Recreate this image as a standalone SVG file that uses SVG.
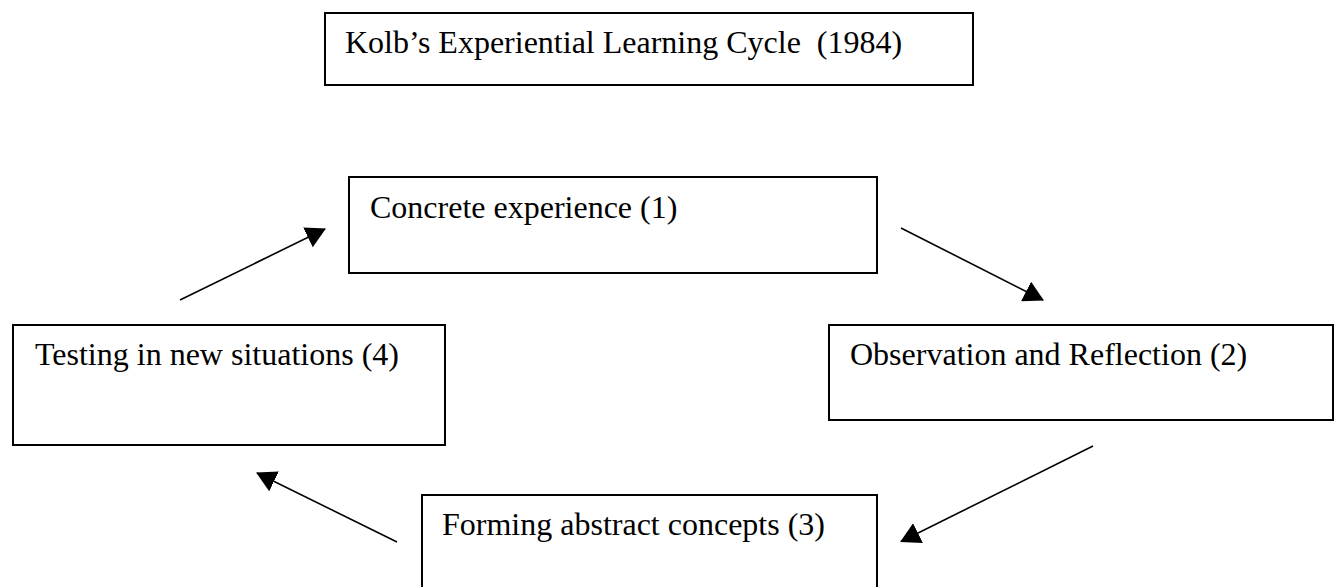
<svg xmlns="http://www.w3.org/2000/svg" width="1340" height="587" viewBox="0 0 1340 587">
<style>
.box{fill:#fff;stroke:#000;stroke-width:2}
.lbl{font-family:"Liberation Serif","Times New Roman",serif;font-size:32px;fill:#000}
.conn{stroke:#000;stroke-width:1.6;fill:none;marker-end:url(#ah)}
</style>
<defs>
<marker id="ah" markerUnits="userSpaceOnUse" markerWidth="20" markerHeight="22" refX="19" refY="11" orient="auto" viewBox="0 0 20 22">
<path d="M0,0 L20,11 L0,22 z" fill="#000"/>
</marker>
</defs>
<rect width="1340" height="587" fill="#fff"/>
<g id="title">
<rect class="box" x="325" y="13" width="648" height="72"/>
<text class="lbl" x="345" y="53" xml:space="preserve">Kolb’s Experiential Learning Cycle  (1984)</text>
</g>
<g id="concrete">
<rect class="box" x="349" y="177" width="528" height="96"/>
<text class="lbl" x="370" y="218">Concrete experience (1)</text>
</g>
<g id="observation">
<rect class="box" x="829" y="325" width="504" height="95"/>
<text class="lbl" x="850" y="365">Observation and Reflection (2)</text>
</g>
<g id="forming">
<path class="box" d="M422,590 L422,495 L877,495 L877,590"/>
<text class="lbl" x="442" y="535">Forming abstract concepts (3)</text>
</g>
<g id="testing">
<rect class="box" x="13" y="325" width="432" height="120"/>
<text class="lbl" x="35" y="365">Testing in new situations (4)</text>
</g>
<g id="connectors">
<line class="conn" x1="180" y1="300" x2="325" y2="229"/>
<line class="conn" x1="901" y1="228" x2="1043" y2="300"/>
<line class="conn" x1="1093" y1="446" x2="901" y2="541.5"/>
<line class="conn" x1="397" y1="542" x2="257" y2="473"/>
</g>
</svg>
